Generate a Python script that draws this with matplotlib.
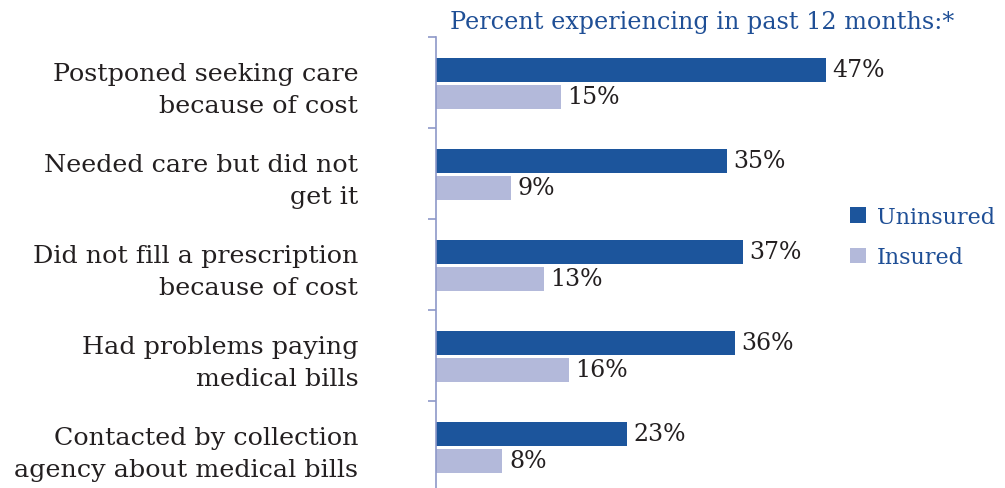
import matplotlib
matplotlib.use("Agg")
import matplotlib.pyplot as plt
import numpy as np

categories = [
    "Postponed seeking care\nbecause of cost",
    "Needed care but did not\nget it",
    "Did not fill a prescription\nbecause of cost",
    "Had problems paying\nmedical bills",
    "Contacted by collection\nagency about medical bills",
]
uninsured = [47, 35, 37, 36, 23]
insured = [15, 9, 13, 16, 8]

dark = "#1c559c"
light = "#b3b9da"
axis_col = "#8e98c8"
text_col = "#231f20"
blue_txt = "#1f4f96"

plt.rcParams["font.family"] = ["DejaVu Serif", "Liberation Serif"]

fig = plt.figure(figsize=(10.05, 4.89), dpi=100)
ax = fig.add_axes([436 / 1005, 0, 564 / 1005, 451 / 489])

y = np.arange(len(categories))
h = 0.265
b1 = ax.barh(y - 0.14, uninsured, height=h, color=dark, label="Uninsured")
b2 = ax.barh(y + 0.155, insured, height=h, color=light, label="Insured")

for bars, vals in [(b1, uninsured), (b2, insured)]:
    for bar, v in zip(bars, vals):
        ax.text(v + 0.8, bar.get_y() + bar.get_height() / 2, f"{v}%",
                va="center", ha="left", fontsize=17, color=text_col)

ax.set_xlim(0, 564 / 8.3)
ax.set_ylim(-0.5 + 451 / 91, -0.5)

for s in ["top", "right", "bottom"]:
    ax.spines[s].set_visible(False)
ax.spines["left"].set_color(axis_col)
ax.spines["left"].set_linewidth(1.2)
ax.set_xticks([])

ax.set_yticks(y)
ax.set_yticklabels(categories, fontsize=18.3, color=text_col, linespacing=1.52,
                   ha="right")
ax.tick_params(axis="y", which="major", length=0, pad=56)
ax.set_yticks(np.arange(-0.5, 4, 1), minor=True)
ax.tick_params(axis="y", which="minor", length=6, width=1.2, color=axis_col)

fig.text(702 / 1005, 1 - 22 / 489, "Percent experiencing in past 12 months:*",
         ha="center", va="center", fontsize=17.2, color=blue_txt)

leg = ax.legend(loc="center left", bbox_to_anchor=(850 / 1005, 1 - 238 / 489),
                bbox_transform=fig.transFigure, frameon=False, fontsize=16,
                handlelength=0.7, handleheight=0.7, handletextpad=0.5,
                labelspacing=0.85, borderpad=0, borderaxespad=0)
for t in leg.get_texts():
    t.set_color(blue_txt)

fig.savefig("out.png", dpi=100)
